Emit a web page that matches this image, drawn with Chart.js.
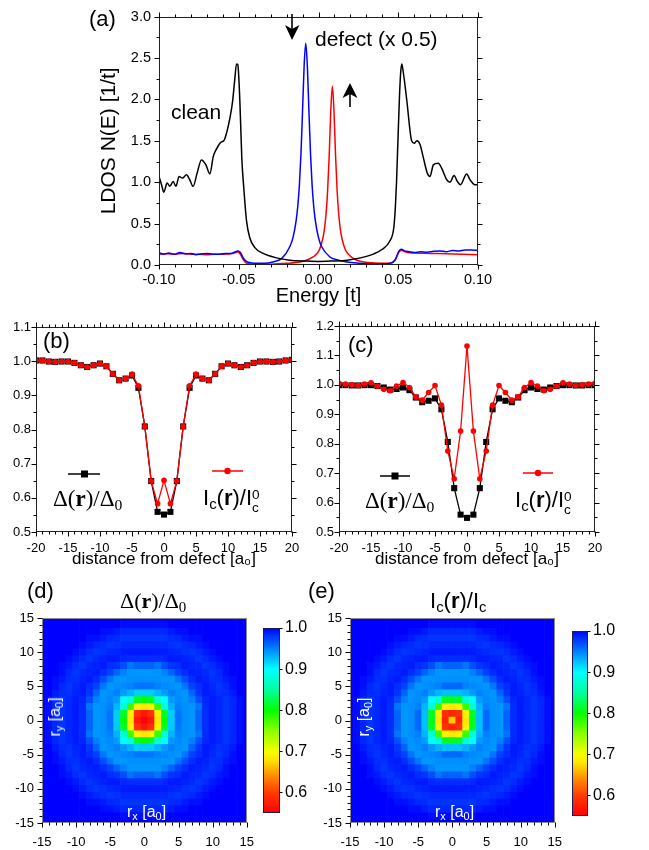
<!DOCTYPE html>
<html>
<head>
<meta charset="utf-8">
<script src="https://cdn.jsdelivr.net/npm/chart.js@4.4.1/dist/chart.umd.min.js"></script>
<style>
body{margin:0;background:#fff;}
#page{position:relative;width:649px;height:850px;overflow:hidden;font-family:"Liberation Sans",Arial,sans-serif;color:#000;}
canvas{position:absolute;}
.t{position:absolute;white-space:nowrap;line-height:1;}
.serif{font-family:"Liberation Serif","Times New Roman",serif;}
.w{color:#fff;}
.t sub{font-size:.68em;vertical-align:-.28em;line-height:0;}
.ss{display:inline-flex;flex-direction:column;font-size:.62em;line-height:.9;vertical-align:.42em;}
.rot{transform:translate(-50%,-50%) rotate(-90deg);}
svg{position:absolute;left:0;top:0;}
</style>
</head>
<body>
<div id="page">
<canvas id="cA" width="649" height="310" style="left:0;top:0"></canvas>
<canvas id="cB" width="320" height="280" style="left:0;top:310px"></canvas>
<canvas id="cC" width="325" height="280" style="left:300px;top:310px"></canvas>
<canvas id="cD" width="266" height="260" style="left:0;top:590px"></canvas>
<canvas id="cDbar" width="62" height="260" style="left:258px;top:590px"></canvas>
<canvas id="cE" width="274" height="260" style="left:300px;top:590px"></canvas>
<canvas id="cEbar" width="83" height="260" style="left:566px;top:590px"></canvas>

<div class="t" style="left:89px;top:8px;font-size:22px">(a)</div>
<div class="t" style="left:171px;top:101px;font-size:21px">clean</div>
<div class="t" style="left:315px;top:28px;font-size:21px">defect (x 0.5)</div>

<div class="t" style="left:43px;top:330px;font-size:22px">(b)</div>
<div class="t serif" style="left:53px;top:487px;font-size:23px">&Delta;(<b>r</b>)/&Delta;<sub>0</sub></div>
<div class="t" style="left:203px;top:487px;font-size:22px">I<sub>c</sub>(<b>r</b>)/I<span class="ss"><span>0</span><span>c</span></span></div>

<div class="t" style="left:348px;top:334px;font-size:22px">(c)</div>
<div class="t serif" style="left:365px;top:489px;font-size:23px">&Delta;(<b>r</b>)/&Delta;<sub>0</sub></div>
<div class="t" style="left:515px;top:489px;font-size:22px">I<sub>c</sub>(<b>r</b>)/I<span class="ss"><span>0</span><span>c</span></span></div>

<div class="t" style="left:27px;top:580px;font-size:22px">(d)</div>
<div class="t serif" style="left:120px;top:590px;font-size:22px">&Delta;(<b>r</b>)/&Delta;<sub>0</sub></div>
<div class="t w" style="left:127px;top:804px;font-size:16px">r<sub>x</sub> [a<sub>0</sub>]</div>
<div class="t w rot" style="left:55px;top:717px;font-size:16px">r<sub>y</sub> [a<sub>0</sub>]</div>

<div class="t" style="left:308px;top:580px;font-size:22px">(e)</div>
<div class="t" style="left:430px;top:590px;font-size:22px">I<sub>c</sub>(<b>r</b>)/I<sub>c</sub></div>
<div class="t w" style="left:435px;top:804px;font-size:16px">r<sub>x</sub> [a<sub>0</sub>]</div>
<div class="t w rot" style="left:364px;top:717px;font-size:16px">r<sub>y</sub> [a<sub>0</sub>]</div>

<svg width="649" height="850">
  <line x1="292" y1="14" x2="292" y2="30" stroke="#000" stroke-width="1.6"/>
  <path d="M285,25 L292,40 L299.5,25 L292,29 Z" fill="#000"/>
  <line x1="350" y1="92" x2="350" y2="107" stroke="#000" stroke-width="1.6"/>
  <path d="M342.5,98 L350,83 L357.5,98 L350,94 Z" fill="#000"/>
  <line x1="68" y1="474" x2="100" y2="474" stroke="#000" stroke-width="1.5"/>
  <rect x="81" y="470.5" width="7" height="7" fill="#000"/>
  <line x1="212" y1="471" x2="243" y2="471" stroke="#f00" stroke-width="1.5"/>
  <circle cx="227.5" cy="471" r="3.2" fill="#f00"/>
  <line x1="380" y1="476" x2="410" y2="476" stroke="#000" stroke-width="1.5"/>
  <rect x="391.5" y="472.5" width="7" height="7" fill="#000"/>
  <line x1="523" y1="473" x2="553" y2="473" stroke="#f00" stroke-width="1.5"/>
  <circle cx="538" cy="473" r="3.2" fill="#f00"/>
</svg>
</div>

<script>
// ---- panel (a): LDOS vs energy ----
const energyClean = [-0.100,-0.0984,-0.0970,-0.0949,-0.0932,-0.0911,-0.0894,-0.0874,-0.0853,-0.0828,-0.0807,-0.0786,-0.0761,-0.0734,-0.0706,-0.0681,-0.0660,-0.0640,-0.0614,-0.0591,-0.0573,-0.0556,-0.0539,-0.0525,-0.0514,-0.0506,-0.0493,-0.0481,-0.0468,-0.0451,-0.0431,-0.0399,-0.0347,-0.0263,-0.0180,-0.0075,0.0,0.0075,0.0180,0.0263,0.0347,0.0400,0.0447,0.0472,0.0482,0.0489,0.0498,0.0507,0.0515,0.0522,0.0530,0.0553,0.0584,0.0600,0.0616,0.0636,0.0657,0.0682,0.0699,0.0720,0.0751,0.0772,0.0804,0.0824,0.0850,0.0870,0.0890,0.0929,0.0950,0.0981,0.1000];
const ldosClean = [1.07,0.97,0.88,0.99,0.95,1.01,0.95,1.07,1.05,1.09,1.03,0.95,1.11,1.27,1.21,1.10,1.31,1.40,1.48,1.51,1.62,1.77,1.97,2.24,2.43,2.42,1.98,1.30,0.92,0.53,0.33,0.21,0.14,0.086,0.058,0.047,0.043,0.047,0.058,0.086,0.135,0.19,0.29,0.45,0.70,0.99,1.50,2.00,2.32,2.43,2.35,2.00,1.50,1.47,1.50,1.46,1.30,1.11,1.07,1.21,1.23,1.17,1.03,1.00,1.08,1.01,0.97,1.10,1.03,0.97,0.97];

const energyDown = [-0.100,-0.097,-0.094,-0.090,-0.087,-0.083,-0.080,-0.077,-0.073,-0.070,-0.066,-0.062,-0.058,-0.055,-0.052,-0.0505,-0.049,-0.047,-0.045,-0.042,-0.038,-0.034,-0.028,-0.023,-0.018,-0.016,-0.014,-0.013,-0.012,-0.011,-0.010,-0.009,-0.008,-0.007,-0.006,-0.005,-0.004,-0.003,-0.002,0.000,0.002,0.007,0.012,0.018,0.025,0.032,0.040,0.045,0.048,0.0505,0.052,0.054,0.057,0.060,0.064,0.068,0.072,0.076,0.080,0.084,0.088,0.092,0.096,0.100];
const ldosDown = [0.15,0.13,0.145,0.13,0.15,0.135,0.14,0.125,0.135,0.14,0.13,0.13,0.14,0.14,0.16,0.17,0.15,0.08,0.04,0.025,0.02,0.02,0.04,0.08,0.22,0.33,0.54,0.71,0.96,1.34,1.86,2.41,2.68,2.41,1.86,1.34,0.96,0.71,0.54,0.33,0.22,0.10,0.06,0.035,0.022,0.015,0.012,0.02,0.06,0.17,0.19,0.17,0.16,0.15,0.16,0.155,0.165,0.17,0.16,0.175,0.17,0.18,0.18,0.175];

const energyUp = [-0.100,-0.095,-0.090,-0.085,-0.080,-0.075,-0.070,-0.065,-0.060,-0.055,-0.052,-0.0505,-0.049,-0.047,-0.045,-0.040,-0.030,-0.020,-0.011,-0.006,-0.0013,0.0007,0.0027,0.0037,0.0047,0.0057,0.0067,0.0077,0.0087,0.0097,0.0107,0.0117,0.0127,0.0137,0.0147,0.0167,0.0187,0.0237,0.0287,0.035,0.042,0.045,0.048,0.0505,0.052,0.055,0.060,0.070,0.080,0.090,0.100];
const ldosUp = [0.13,0.135,0.13,0.14,0.13,0.13,0.125,0.13,0.13,0.135,0.15,0.16,0.13,0.06,0.02,0.01,0.01,0.02,0.04,0.07,0.13,0.19,0.32,0.43,0.61,0.89,1.32,1.86,2.16,1.86,1.32,0.89,0.61,0.43,0.32,0.19,0.13,0.06,0.035,0.025,0.02,0.02,0.06,0.16,0.175,0.155,0.145,0.14,0.135,0.13,0.125];

const energyTicks = [-0.10,-0.05,0.00,0.05,0.10];
const ldosTicks = [0,0.5,1.0,1.5,2.0,2.5,3.0];

// ---- panels (b), (c): profiles through the defect ----
const distance = [-20,-19,-18,-17,-16,-15,-14,-13,-12,-11,-10,-9,-8,-7,-6,-5,-4,-3,-2,-1,0,1,2,3,4,5,6,7,8,9,10,11,12,13,14,15,16,17,18,19,20];
const gapB = [1.002,1.002,0.999,0.998,0.999,0.999,0.995,0.988,0.983,0.988,0.993,0.985,0.963,0.944,0.949,0.958,0.922,0.809,0.649,0.559,0.551,0.559,0.649,0.809,0.922,0.958,0.949,0.944,0.963,0.985,0.993,0.988,0.983,0.988,0.995,0.999,0.999,0.998,0.999,1.002,1.004];
const icB  = [1.002,1.002,0.999,0.998,0.999,0.999,0.995,0.988,0.983,0.988,0.993,0.985,0.963,0.944,0.949,0.962,0.928,0.809,0.649,0.583,0.651,0.583,0.649,0.809,0.928,0.962,0.949,0.944,0.963,0.985,0.993,0.988,0.983,0.988,0.995,0.999,0.999,0.998,0.999,1.002,1.004];
const gapC = [0.999,0.999,0.998,0.998,0.999,0.999,0.996,0.991,0.984,0.986,0.991,0.982,0.957,0.941,0.946,0.954,0.917,0.806,0.649,0.559,0.548,0.559,0.649,0.806,0.917,0.954,0.946,0.941,0.957,0.982,0.991,0.986,0.984,0.991,0.996,0.999,0.999,0.998,0.998,0.999,0.999];
const icC  = [1.005,1.003,1.000,0.998,1.003,1.007,0.996,0.985,0.980,0.996,1.008,0.991,0.959,0.948,0.974,0.998,0.931,0.775,0.681,0.843,1.132,0.843,0.681,0.775,0.931,0.998,0.974,0.948,0.959,0.991,1.008,0.996,0.980,0.985,0.996,1.007,1.003,0.998,1.000,1.003,1.005];
const distTicks = [-20,-15,-10,-5,0,5,10,15,20];
const ratioTicksB = [0.5,0.6,0.7,0.8,0.9,1.0,1.1];
const ratioTicksC = [0.5,0.6,0.7,0.8,0.9,1.0,1.1,1.2];

// ---- panels (d), (e): maps, one quadrant [|ry|][|rx|], mirrored ----
const cells = [-15,-14,-13,-12,-11,-10,-9,-8,-7,-6,-5,-4,-3,-2,-1,0,1,2,3,4,5,6,7,8,9,10,11,12,13,14,15];
const gapQuad = [
  [.55,.57,.68,.80,.92,.955,.945,.942,.962,.983,.99,.985,.98,.985,.995,1],
  [.57,.59,.69,.81,.92,.955,.945,.942,.962,.983,.99,.985,.98,.985,.995,1],
  [.68,.69,.78,.88,.93,.95,.945,.942,.955,.983,.99,.985,.98,.985,.995,1],
  [.80,.81,.88,.90,.94,.947,.943,.95,.97,.985,.99,.985,.98,.985,.995,1],
  [.92,.92,.93,.94,.95,.945,.942,.962,.98,.99,.987,.982,.984,.99,1,1],
  [.955,.955,.95,.947,.945,.942,.955,.975,.983,.99,.985,.98,.985,.995,1,1],
  [.945,.945,.945,.943,.942,.955,.97,.983,.99,.987,.982,.983,.99,.995,1,1],
  [.942,.942,.942,.95,.962,.975,.983,.99,.987,.985,.98,.985,.995,1,1,1],
  [.962,.962,.955,.97,.98,.983,.99,.987,.985,.98,.983,.99,.995,1,1,1],
  [.983,.983,.983,.985,.99,.99,.987,.985,.98,.984,.99,.995,1,1,1,1],
  [.99,.99,.99,.99,.987,.985,.982,.98,.983,.99,.995,1,1,1,1,1],
  [.985,.985,.985,.985,.982,.98,.983,.985,.99,.995,1,1,1,1,1,1],
  [.98,.98,.98,.98,.984,.985,.99,.995,.995,1,1,1,1,1,1,1],
  [.985,.985,.985,.985,.99,.995,.995,1,1,1,1,1,1,1,1,1],
  [.995,.995,.995,.995,1,1,1,1,1,1,1,1,1,1,1,1],
  [1,1,1,1,1,1,1,1,1,1,1,1,1,1,1,1]
];
const icQuad = [
  [.67,.58,.68,.81,.925,.96,.945,.942,.962,.983,.99,.985,.98,.985,.995,1],
  [.58,.59,.69,.81,.925,.96,.945,.942,.962,.983,.99,.985,.98,.985,.995,1],
  [.68,.69,.78,.88,.93,.95,.945,.942,.955,.983,.99,.985,.98,.985,.995,1],
  [.81,.81,.88,.90,.94,.947,.943,.95,.97,.985,.99,.985,.98,.985,.995,1],
  [.925,.925,.93,.94,.95,.945,.942,.962,.98,.99,.987,.982,.984,.99,1,1],
  [.96,.96,.95,.947,.945,.942,.955,.975,.983,.99,.985,.98,.985,.995,1,1],
  [.945,.945,.945,.943,.942,.955,.97,.983,.99,.987,.982,.983,.99,.995,1,1],
  [.942,.942,.942,.95,.962,.975,.983,.99,.987,.985,.98,.985,.995,1,1,1],
  [.962,.962,.955,.97,.98,.983,.99,.987,.985,.98,.983,.99,.995,1,1,1],
  [.983,.983,.983,.985,.99,.99,.987,.985,.98,.984,.99,.995,1,1,1,1],
  [.99,.99,.99,.99,.987,.985,.982,.98,.983,.99,.995,1,1,1,1,1],
  [.985,.985,.985,.985,.982,.98,.983,.985,.99,.995,1,1,1,1,1,1],
  [.98,.98,.98,.98,.984,.985,.99,.995,.995,1,1,1,1,1,1,1],
  [.985,.985,.985,.985,.99,.995,.995,1,1,1,1,1,1,1,1,1],
  [.995,.995,.995,.995,1,1,1,1,1,1,1,1,1,1,1,1],
  [1,1,1,1,1,1,1,1,1,1,1,1,1,1,1,1]
];
const mapTicks = [-15,-10,-5,0,5,10,15];
const barTicks = [0.6,0.7,0.8,0.9,1.0];
const barRange = [0.55,1.0];

// colour scale (value -> colour)
const cmapVals = [0.55,0.60,0.64,0.68,0.70,0.75,0.80,0.85,0.90,0.95,1.00];
const cmapCols = ['#ff0000','#ff3c00','#ff8c00','#ffe600','#f5ff00','#8cff00','#00ff00','#00ffa0','#00ffff','#0082ff','#0000ff'];

function hexRgb(h){ return [1,3,5].map(i => parseInt(h.substr(i,2),16)); }
function cmap(v){
  const n = cmapVals.length;
  if (v <= cmapVals[0]) return cmapCols[0];
  if (v >= cmapVals[n-1]) return cmapCols[n-1];
  let k = 0;
  while (v > cmapVals[k+1]) k++;
  const f = (v - cmapVals[k]) / (cmapVals[k+1] - cmapVals[k]);
  const a = hexRgb(cmapCols[k]), b = hexRgb(cmapCols[k+1]);
  return 'rgb(' + a.map((c,i) => Math.round(c + (b[i]-c)*f)).join(',') + ')';
}

Chart.defaults.font.family = '"Liberation Sans", Arial, sans-serif';
Chart.defaults.color = '#000';
Chart.defaults.animation = false;

// frame round the plot and outward major/minor ticks
const frameTicks = {
  id: 'frameTicks',
  afterDraw(chart, args, o) {
    const {ctx, chartArea: a} = chart;
    ctx.save();
    ctx.lineWidth = 1;
    const L = Math.round(a.left) + 0.5, R = Math.round(a.right) - 0.5;
    const T = Math.round(a.top) + 0.5, B = Math.round(a.bottom) - 0.5;
    if (o.frame) { ctx.strokeStyle = o.frame; ctx.strokeRect(L, T, R - L, B - T); }
    ctx.strokeStyle = '#000';
    ctx.beginPath();
    ['x','y'].forEach(id => {
      const s = chart.scales[id], sides = o[id + 'Sides'], minor = o[id + 'Minor'];
      if (!s || !sides) return;
      const marks = s.ticks.map(t => [t.value, o.major]);
      if (minor) {
        const n = Math.round((s.max - s.min) / minor);
        for (let i = 0; i <= n; i++) {
          const v = s.min + i * minor;
          if (!s.ticks.some(t => Math.abs(t.value - v) < minor / 10)) marks.push([v, o.minorLen]);
        }
      }
      marks.forEach(([v, len]) => {
        const p = Math.round(s.getPixelForValue(v)) + 0.5;
        if (sides.includes('b')) { ctx.moveTo(p, B); ctx.lineTo(p, B + len); }
        if (sides.includes('t')) { ctx.moveTo(p, T); ctx.lineTo(p, T - len); }
        if (sides.includes('l')) { ctx.moveTo(L, p); ctx.lineTo(L - len, p); }
        if (sides.includes('r')) { ctx.moveTo(R, p); ctx.lineTo(R + len, p); }
      });
    });
    ctx.stroke();
    ctx.restore();
  }
};

function axis(ticks, fmt, size, pad, fit, extra) {
  return Object.assign({
    type: 'linear',
    min: ticks[0], max: ticks[ticks.length-1],
    grid: {display: false, drawTicks: false},
    border: {display: false},
    ticks: {autoSkip: false, maxRotation: 0, padding: pad, font: {size: size}, callback: fmt},
    afterBuildTicks: s => { s.ticks = ticks.map(v => ({value: v})); },
    afterFit: fit
  }, extra || {});
}
const f1 = v => v.toFixed(1), f2 = v => v.toFixed(2), f0 = v => String(v);
const pts = (xs, ys) => xs.map((x, i) => ({x: x, y: ys[i]}));

// (a)
new Chart('cA', {
  type: 'scatter',
  data: {datasets: [
    {data: pts(energyClean, ldosClean), borderColor: '#000', order: 1},
    {data: pts(energyDown, ldosDown), borderColor: '#0000ff', order: 2},
    {data: pts(energyUp, ldosUp), borderColor: '#ff0000', order: 3}
  ]},
  options: {
    responsive: false, devicePixelRatio: 1,
    datasets: {scatter: {showLine: true, pointRadius: 0, borderWidth: 1.5, cubicInterpolationMode: 'monotone'}},
    layout: {padding: {left: 0, right: 171, top: 8, bottom: 0}},
    plugins: {legend: {display: false}, tooltip: {enabled: false},
      frameTicks: {frame: '#222', major: 5, minorLen: 3, xSides: 'bt', xMinor: 0.01, ySides: 'lr', yMinor: 0.25}},
    scales: {
      x: axis(energyTicks, f2, 14.5, 6, s => { s.height = 45; },
        {title: {display: true, text: 'Energy [t]', font: {size: 20}, padding: {top: 0, bottom: 2}}}),
      y: axis(ldosTicks, f1, 14.5, 8, s => { s.width = 159; },
        {title: {display: true, text: 'LDOS N(E) [1/t]', font: {size: 21}, padding: {top: 97, bottom: 0}}})
    }
  },
  plugins: [frameTicks]
});

// (b), (c)
function profileChart(id, gap, ic, yTicks, yWidth, padTop, padRight) {
  return new Chart(id, {
    type: 'scatter',
    data: {datasets: [
      {data: pts(distance, gap), borderColor: '#000', backgroundColor: '#000', pointStyle: 'rect', pointRadius: 4.3, order: 2},
      {data: pts(distance, ic), borderColor: '#ff0000', backgroundColor: '#ff0000', pointStyle: 'circle', pointRadius: 2.8, order: 1}
    ]},
    options: {
      responsive: false, devicePixelRatio: 1,
      datasets: {scatter: {showLine: true, borderWidth: 1.3, pointBorderWidth: 0}},
      layout: {padding: {left: 0, right: padRight, top: padTop, bottom: 0}},
      plugins: {legend: {display: false}, tooltip: {enabled: false},
        frameTicks: {frame: '#222', major: 5, minorLen: 3, xSides: 'bt', xMinor: 1, ySides: 'lr', yMinor: 0.05}},
      scales: {
        x: axis(distTicks, f0, 13, 9, s => { s.height = 58; },
          {title: {display: true, text: 'distance from defect [a\u2080]', font: {size: 17}, padding: {top: 0, bottom: 20}}}),
        y: axis(yTicks, f1, 13, 5, s => { s.width = yWidth; })
      }
    },
    plugins: [frameTicks]
  });
}
profileChart('cB', gapB, icB, ratioTicksB, 36, 17, 28);
profileChart('cC', gapC, icC, ratioTicksC, 39, 16, 30);

// (d), (e) maps drawn as floating bars, one dataset per row
function mapChart(id, quad, yWidth) {
  const datasets = cells.map(ry => ({
    data: cells.map(rx => ({x: rx, y: [ry - 0.5, ry + 0.5]})),
    backgroundColor: cells.map(rx => cmap(quad[Math.abs(ry)][Math.abs(rx)])),
    borderWidth: 0, barPercentage: 1, categoryPercentage: 1, grouped: false
  }));
  return new Chart(id, {
    type: 'bar',
    data: {datasets: datasets},
    options: {
      responsive: false, devicePixelRatio: 1,
      layout: {padding: {left: 0, right: 10, top: 28, bottom: 0}},
      plugins: {legend: {display: false}, tooltip: {enabled: false},
        frameTicks: {frame: '#8a8a8a', major: 5, minorLen: 3, xSides: 'b', xMinor: 1, ySides: 'l', yMinor: 1}},
      scales: {
        x: axis(mapTicks, f0, 13, 12, s => { s.height = 27; }, {offset: false}),
        y: axis(mapTicks, f0, 13, 8, s => { s.width = yWidth; })
      }
    },
    plugins: [frameTicks]
  });
}
mapChart('cD', gapQuad, 42);
mapChart('cE', icQuad, 50);

// colour bars
function barChart(id, padLeft, yWidth, padTop, padBottom) {
  return new Chart(id, {
    type: 'bar',
    data: {labels: [''], datasets: [{
      data: [barRange],
      backgroundColor: c => {
        const ch = c.chart;
        if (!ch.chartArea) return cmapCols[0];
        const ys = ch.scales.y;
        const g = ch.ctx.createLinearGradient(0, ys.getPixelForValue(barRange[0]), 0, ys.getPixelForValue(barRange[1]));
        cmapVals.forEach((v, i) => g.addColorStop((v - barRange[0]) / (barRange[1] - barRange[0]), cmapCols[i]));
        return g;
      },
      borderWidth: 0, barPercentage: 1, categoryPercentage: 1
    }]},
    options: {
      responsive: false, devicePixelRatio: 1,
      layout: {padding: {left: padLeft, right: 0, top: padTop, bottom: padBottom}},
      plugins: {legend: {display: false}, tooltip: {enabled: false},
        frameTicks: {frame: '#1a1a5a', major: 3, minorLen: 0, ySides: 'r'}},
      scales: {
        x: {display: false},
        y: Object.assign(axis(barTicks, f1, 16, 5, s => { s.width = yWidth; }), {position: 'right', min: barRange[0], max: barRange[1]})
      }
    },
    plugins: [frameTicks]
  });
}
barChart('cDbar', 5, 40, 38, 37);
barChart('cEbar', 6, 61, 41, 34);
</script>
</body>
</html>
